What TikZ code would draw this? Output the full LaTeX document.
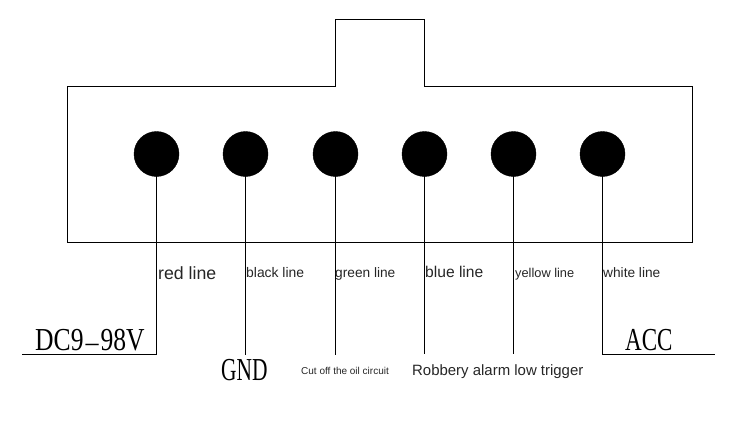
\documentclass[tikz,border=0pt]{standalone}
\usepackage{graphicx}
\usepackage{fontspec}
\setmainfont{Liberation Sans}
\newfontfamily\serifcond{Liberation Serif}
\tikzset{
  x=1pt,y=-1pt,
  wire/.style={line width=1pt,black},
  pin/.style={circle,fill=black,draw=black,minimum size=45pt,inner sep=0pt},
  lab/.style={inner sep=0pt,anchor=base west,text=black!85},
  big/.style={inner sep=0pt,anchor=base west,text=black}
}
\newcommand{\fs}[1]{\fontsize{#1pt}{#1pt}\selectfont}
\newcommand{\condtext}[2]{\scalebox{#1}[1]{\serifcond\fs{32}#2}}
\begin{document}
\begin{tikzpicture}
\useasboundingbox (0,0) rectangle (752,439);
\draw[line width=1pt,black] (67.5,86.5) -- (335.5,86.5) -- (335.5,19.5) -- (424.5,19.5) -- (424.5,86.5) -- (692.5,86.5) -- (692.5,242.5) -- (67.5,242.5) -- cycle;
\node[pin] (p1) at (156.5,154) {};
\node[pin] (p2) at (245.5,154) {};
\node[pin] (p3) at (335.5,154) {};
\node[pin] (p4) at (424.5,154) {};
\node[pin] (p5) at (513.5,154) {};
\node[pin] (p6) at (602.5,154) {};
\coordinate (c1) at (156.5,354.5);
\coordinate (e1) at (22,354.5);
\coordinate (e2) at (245.5,354.5);
\coordinate (e3) at (335.5,354.5);
\coordinate (e4) at (424.5,353.5);
\coordinate (e5) at (513.5,353.5);
\coordinate (c6) at (602.5,354.5);
\coordinate (e6) at (715,354.5);
\draw[wire] (p1.center) -- (c1) -- (e1);
\draw[wire] (p2.center) -- (e2);
\draw[wire] (p3.center) -- (e3);
\draw[wire] (p4.center) -- (e4);
\draw[wire] (p5.center) -- (e5);
\draw[wire] (p6.center) -- (c6) -- (e6);
\node[lab,font=\fs{17.7}] (l1) at (158,279) {red line};
\node[lab,font=\fs{13.9}] (l2) at (246,277) {black line};
\node[lab,font=\fs{13.7}] (l3) at (335,277) {green line};
\node[lab,font=\fs{15.6}] (l4) at (425,277) {blue line};
\node[lab,font=\fs{12.8}] (l5) at (515,277) {yellow line};
\node[lab,font=\fs{13.7}] (l6) at (603,277) {white line};
\node[big] (t1) at (35,350.5) {\condtext{0.8}{DC9\raisebox{1pt}{\scalebox{2}[0.6]{-}}98V}};
\node[big] (t2) at (221,380.5) {\condtext{0.67}{GND}};
\node[big] (t3) at (625,350.5) {\condtext{0.72}{ACC}};
\node[lab,font=\fs{10}] (t4) at (301,374) {Cut off the oil circuit};
\node[lab,font=\fs{14.95}] (t5) at (412,375) {Robbery alarm low trigger};
\end{tikzpicture}
\end{document}
